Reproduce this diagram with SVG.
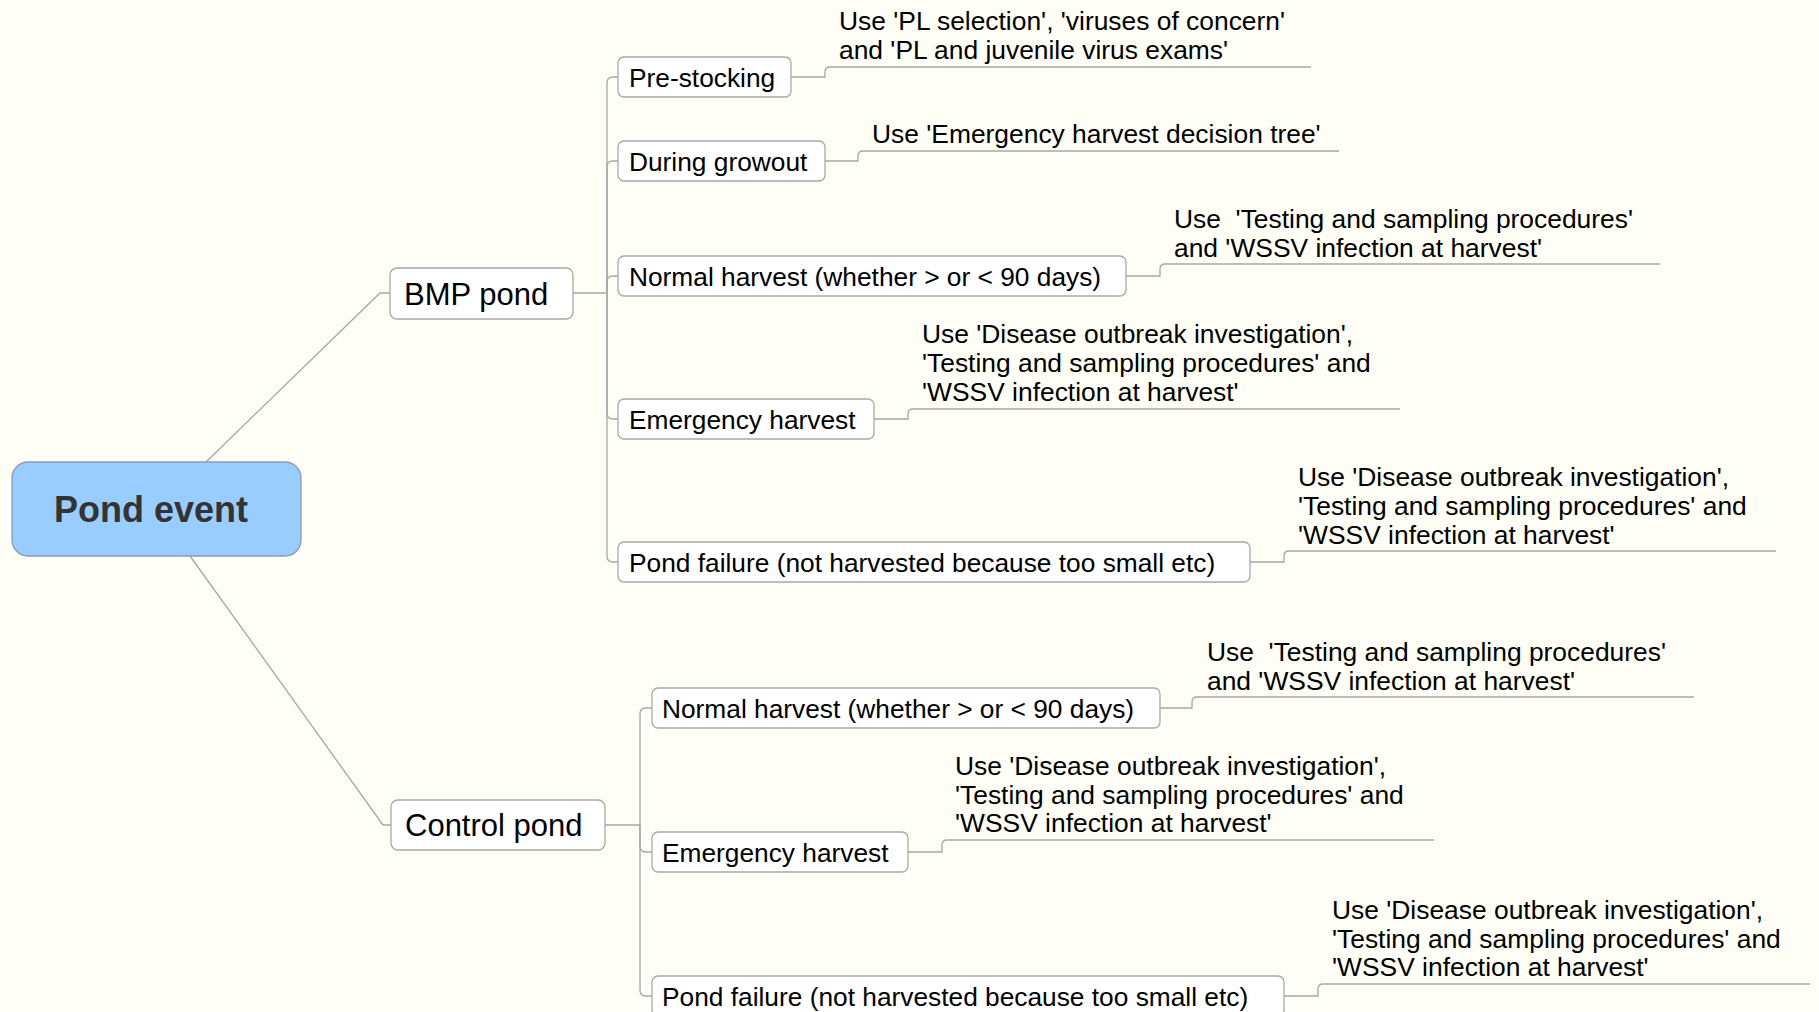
<svg xmlns="http://www.w3.org/2000/svg" width="1819" height="1012" viewBox="0 0 1819 1012">
  <style>
    .bg { fill: #fefef6; }
    .link { fill: none; stroke: #a6a6a6; stroke-width: 1.3; }
    .root rect { fill: #99ccff; stroke: #8a9db0; stroke-width: 1.3; }
    .root text { font-family: "Liberation Sans", Arial, sans-serif; font-weight: bold; font-size: 36px; fill: #333333; text-anchor: middle; }
    .box rect { fill: #ffffff; stroke: #a8a8a8; stroke-width: 1.3; }
    .box text { font-family: "Liberation Sans", Arial, sans-serif; font-size: 26.3px; fill: #000000; white-space: pre; }
    .big text { font-size: 31px; }
    .note text { font-family: "Liberation Sans", Arial, sans-serif; font-size: 26.4px; fill: #000000; white-space: pre; }
  </style>

  <rect class="bg" x="0" y="0" width="1819" height="1012"/>

  <!-- connectors -->
  <g id="connectors">
    <!-- root to branches -->
    <path class="link" d="M206 462 L380 293 H390"/>
    <path class="link" d="M190 556 L383 825 H391"/>

    <!-- BMP pond to its children -->
    <path class="link" d="M573 293 H607"/>
    <path class="link" d="M607 293 V83 Q607 77 613 77 H618"/>
    <path class="link" d="M607 293 V167 Q607 161 613 161 H618"/>
    <path class="link" d="M607 293 V282 Q607 276 613 276 H618"/>
    <path class="link" d="M607 293 V413 Q607 419 613 419 H618"/>
    <path class="link" d="M607 293 V556 Q607 562 613 562 H618"/>

    <!-- Control pond to its children -->
    <path class="link" d="M605 825 H640"/>
    <path class="link" d="M640 825 V714 Q640 708 646 708 H652"/>
    <path class="link" d="M640 825 V846 Q640 852 646 852 H652"/>
    <path class="link" d="M640 825 V990 Q640 996 646 996 H652"/>

    <!-- children to their notes -->
    <path class="link" d="M791 77 H825 V72 Q825 67 830 67 H1311"/>
    <path class="link" d="M825 161 H858 V156 Q858 151 863 151 H1339"/>
    <path class="link" d="M1126 276 H1160 V269 Q1160 264 1165 264 H1660"/>
    <path class="link" d="M874 419 H908 V414 Q908 409 913 409 H1400"/>
    <path class="link" d="M1250 562 H1284 V556 Q1284 551 1289 551 H1776"/>
    <path class="link" d="M1160 708 H1192 V702 Q1192 697 1197 697 H1694"/>
    <path class="link" d="M908 852 H942 V845 Q942 840 947 840 H1434"/>
    <path class="link" d="M1284 996 H1318 V989 Q1318 984 1323 984 H1810"/>
  </g>

  <!-- central node -->
  <g id="pond-event" class="root">
    <rect x="12" y="462" width="289" height="94" rx="16"/>
    <text x="151" y="522">Pond event</text>
  </g>

  <!-- main branches -->
  <g id="bmp-pond" class="box big">
    <rect x="390" y="268" width="183" height="51" rx="7"/>
    <text x="404" y="305">BMP pond</text>
  </g>
  <g id="control-pond" class="box big">
    <rect x="391" y="800" width="214" height="50" rx="7"/>
    <text x="405" y="836">Control pond</text>
  </g>

  <!-- BMP pond stages -->
  <g id="bmp-prestocking" class="box">
    <rect x="618" y="57" width="173" height="40" rx="6"/>
    <text x="629" y="87">Pre-stocking</text>
  </g>
  <g id="bmp-growout" class="box">
    <rect x="618" y="141" width="207" height="40" rx="6"/>
    <text x="629" y="171">During growout</text>
  </g>
  <g id="bmp-normal" class="box">
    <rect x="618" y="256" width="508" height="40" rx="6"/>
    <text x="629" y="286">Normal harvest (whether &gt; or &lt; 90 days)</text>
  </g>
  <g id="bmp-emergency" class="box">
    <rect x="618" y="399" width="256" height="40" rx="6"/>
    <text x="629" y="429">Emergency harvest</text>
  </g>
  <g id="bmp-failure" class="box">
    <rect x="618" y="542" width="632" height="40" rx="6"/>
    <text x="629" y="572">Pond failure (not harvested because too small etc)</text>
  </g>

  <!-- Control pond stages -->
  <g id="control-normal" class="box">
    <rect x="652" y="688" width="508" height="40" rx="6"/>
    <text x="662" y="718">Normal harvest (whether &gt; or &lt; 90 days)</text>
  </g>
  <g id="control-emergency" class="box">
    <rect x="652" y="832" width="256" height="40" rx="6"/>
    <text x="662" y="862">Emergency harvest</text>
  </g>
  <g id="control-failure" class="box">
    <rect x="652" y="976" width="632" height="40" rx="6"/>
    <text x="662" y="1006">Pond failure (not harvested because too small etc)</text>
  </g>

  <!-- notes -->
  <g id="note-prestocking" class="note">
    <text x="839" y="30">Use 'PL selection', 'viruses of concern'</text>
    <text x="839" y="59">and 'PL and juvenile virus exams'</text>
  </g>
  <g id="note-growout" class="note">
    <text x="872" y="143">Use 'Emergency harvest decision tree'</text>
  </g>
  <g id="note-bmp-normal" class="note">
    <text x="1174" y="228">Use  'Testing and sampling procedures'</text>
    <text x="1174" y="257">and 'WSSV infection at harvest'</text>
  </g>
  <g id="note-bmp-emergency" class="note">
    <text x="922" y="343">Use 'Disease outbreak investigation',</text>
    <text x="922" y="372">'Testing and sampling procedures' and</text>
    <text x="922" y="401">'WSSV infection at harvest'</text>
  </g>
  <g id="note-bmp-failure" class="note">
    <text x="1298" y="486">Use 'Disease outbreak investigation',</text>
    <text x="1298" y="515">'Testing and sampling procedures' and</text>
    <text x="1298" y="544">'WSSV infection at harvest'</text>
  </g>
  <g id="note-control-normal" class="note">
    <text x="1207" y="661">Use  'Testing and sampling procedures'</text>
    <text x="1207" y="690">and 'WSSV infection at harvest'</text>
  </g>
  <g id="note-control-emergency" class="note">
    <text x="955" y="775">Use 'Disease outbreak investigation',</text>
    <text x="955" y="804">'Testing and sampling procedures' and</text>
    <text x="955" y="832">'WSSV infection at harvest'</text>
  </g>
  <g id="note-control-failure" class="note">
    <text x="1332" y="919">Use 'Disease outbreak investigation',</text>
    <text x="1332" y="948">'Testing and sampling procedures' and</text>
    <text x="1332" y="976">'WSSV infection at harvest'</text>
  </g>
</svg>
